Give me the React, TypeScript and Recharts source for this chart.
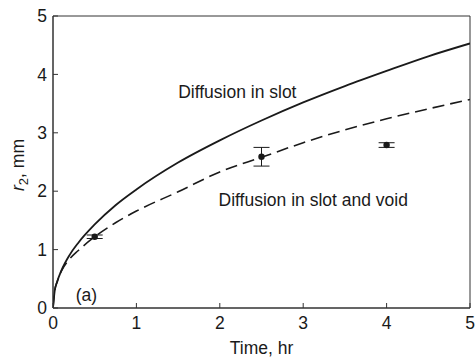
import React from 'react';
import { ComposedChart, Line, Scatter, ErrorBar, XAxis, YAxis, Label, ReferenceDot, ReferenceArea } from 'recharts';

const timeTicks = [0, 1, 2, 3, 4, 5];
const radiusTicks = [0, 1, 2, 3, 4, 5];

const curveTimes = [0, 0.02, 0.05, 0.1, 0.2, 0.3, 0.5, 0.75, 1, 1.5, 2, 2.5, 3, 3.5, 4, 4.5, 5];
const slotValues = [0, 0.29, 0.45, 0.64, 0.91, 1.11, 1.43, 1.76, 2.03, 2.49, 2.87, 3.21, 3.52, 3.8, 4.06, 4.31, 4.53];
const slotVoidValues = [0, 0.29, 0.45, 0.63, 0.84, 0.98, 1.22, 1.46, 1.66, 1.99, 2.33, 2.58, 2.83, 3.05, 3.24, 3.41, 3.57];

const measuredTimes = [0.5, 2.5, 4];
const measuredValues = [1.22, 2.59, 2.79];
const measuredErrors = [0.03, 0.16, 0.04];

const slotData = curveTimes.map((t, i) => ({ t, r: slotValues[i] }));
const slotVoidData = curveTimes.map((t, i) => ({ t, r: slotVoidValues[i] }));
const measuredData = measuredTimes.map((t, i) => ({ t, r: measuredValues[i], err: measuredErrors[i] }));

const font = 'Liberation Sans, Arial, sans-serif';
const ink = '#1a1a1a';
const axisColor = '#333';
const fs = 17.5;

const note = (text: string) => (props: any) => {
  const { viewBox } = props;
  return (
    <text x={viewBox.cx ?? viewBox.x} y={viewBox.cy ?? viewBox.y} textAnchor="middle" dominantBaseline="central"
      fontFamily={font} fontSize={fs} fill={ink}>
      {text}
    </text>
  );
};

const App: React.FC = () => {
  return (
    <div style={{ position: 'absolute', left: 0, top: 0, width: 475, height: 360, background: '#fff' }}>
      <ComposedChart width={475} height={360} margin={{ top: 16, right: 5, left: 8, bottom: 12 }}>
        <XAxis xAxisId="b" dataKey="t" type="number" domain={[0, 5]} ticks={timeTicks} allowDataOverflow
          height={40} stroke={axisColor} tickSize={-5} tickMargin={14}
          tick={{ fill: ink, fontSize: fs, fontFamily: font }}>
          <Label value="Time, hr" position="insideBottom" offset={-6} fill={ink} fontSize={fs} fontFamily={font} />
        </XAxis>
        <XAxis xAxisId="tp" dataKey="t" type="number" orientation="top" domain={[0, 5]} ticks={timeTicks}
          height={0} stroke={axisColor} tickSize={-5} tickFormatter={() => ''} />
        <YAxis yAxisId="l" type="number" domain={[0, 5]} ticks={radiusTicks} allowDataOverflow
          width={45} stroke={axisColor} tickSize={-5} tickMargin={11}
          tick={{ fill: ink, fontSize: fs, fontFamily: font }}>
          <Label content={() => (
            <text x={24} y={165} transform="rotate(-90, 24, 165)" textAnchor="middle"
              fontFamily={font} fontSize={fs} fill={ink}>
              <tspan fontStyle="italic">r</tspan>
              <tspan fontSize={13} dy={4}>2</tspan>
              <tspan dy={-4}>, mm</tspan>
            </text>
          )} />
        </YAxis>
        <YAxis yAxisId="r" type="number" orientation="right" domain={[0, 5]} ticks={radiusTicks}
          width={0} stroke={axisColor} tickSize={-5} tickFormatter={() => ''} />

        <ReferenceArea xAxisId="b" yAxisId="l" x1={0} x2={5} y1={0} y2={5} fill="none" fillOpacity={0}
          stroke={axisColor} strokeWidth={1} />

        <Line xAxisId="b" yAxisId="l" data={slotData} dataKey="r" type="monotone" stroke={ink}
          strokeWidth={1.8} dot={false} isAnimationActive={false} />
        <Line xAxisId="b" yAxisId="l" data={slotVoidData} dataKey="r" type="monotone" stroke={ink}
          strokeWidth={1.6} strokeDasharray="12 6" dot={false} isAnimationActive={false} />
        <Scatter xAxisId="b" yAxisId="l" data={measuredData} dataKey="r" fill={ink} isAnimationActive={false}
          shape={(p: any) => <circle cx={p.cx} cy={p.cy} r={3.2} fill={ink} />}>
          <ErrorBar dataKey="err" direction="y" width={8} stroke={ink} strokeWidth={1} />
        </Scatter>

        <ReferenceDot xAxisId="b" yAxisId="l" x={2.21} y={3.7} r={0} label={note('Diffusion in slot')} />
        <ReferenceDot xAxisId="b" yAxisId="l" x={3.12} y={1.85} r={0} label={note('Diffusion in slot and void')} />
        <ReferenceDot xAxisId="b" yAxisId="l" x={0.4} y={0.22} r={0} label={note('(a)')} />
      </ComposedChart>
    </div>
  );
};

export default App;
